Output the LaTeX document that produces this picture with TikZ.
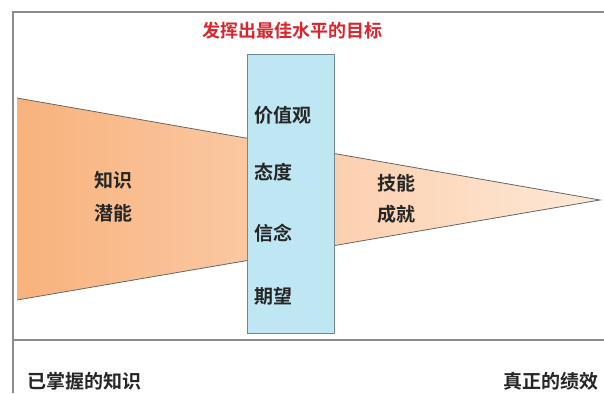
\documentclass[tikz,border=0pt]{standalone}
\usepackage{fontspec}
\newfontfamily\cjk{Noto Sans CJK SC}
\newfontfamily\cjkb{Noto Sans CJK SC Bold}
\usepackage{tikz}

\definecolor{framegray}{HTML}{8C8C8C}
\definecolor{deeporange}{HTML}{F8B27D}
\definecolor{paleorange}{HTML}{FEE9D8}
\definecolor{iceblue}{HTML}{BFE7F3}
\definecolor{boxedge}{HTML}{6F8794}
\definecolor{goalred}{HTML}{D7262E}

\begin{document}
\begin{tikzpicture}[x=1pt, y=-1pt, every node/.style={inner sep=0pt, font=\cjkb\fontsize{19}{21}\selectfont}]
	\tikzset{word/.style={anchor=west, text=black!85}}
	\useasboundingbox (0,0) rectangle (604,393);
	% frame
	\coordinate (f1) at (13,393);
	\coordinate (f2) at (13,12);
	\coordinate (f3) at (604,12);
	\coordinate (s1) at (13,340);
	\coordinate (s2) at (604,340);
	\draw[framegray, line width=1.4pt] (f1) -- (f2) -- (f3);
	\draw[framegray, line width=1.4pt] (s1) -- (s2);
	% wedge
	\coordinate (w1) at (17,98);
	\coordinate (w2) at (600,200);
	\coordinate (w3) at (17,300);
	\shade[left color=deeporange, right color=paleorange] (w1) -- (w2) -- (w3) -- cycle;
	\draw[black!60, line width=0.8pt] (w1) -- (w2) -- (w3);
	% middle bar
	\node[draw=boxedge, line width=1pt, fill=iceblue, minimum width=87pt, minimum height=278pt] (bar) at (290.5,194) {};
	\node[font=\cjkb\fontsize{18}{20}\selectfont, text=goalred] (goal) at (292,31) {发挥出最佳水平的目标};
	\node[word] (v1) at (254,115) {价值观};
	\node[word] (v2) at (254,172) {态度};
	\node[word] (v3) at (254,233) {信念};
	\node[word] (v4) at (254,296) {期望};
	\node[word] (k1) at (94,180) {知识};
	\node[word] (k2) at (94,213) {潜能};
	\node[word] (s1t) at (377,183) {技能};
	\node[word] (s2t) at (377,214) {成就};
	\node[word] (left) at (27,381) {已掌握的知识};
	\node[anchor=east, text=black!85] (right) at (599,381) {真正的绩效};
\end{tikzpicture}
\end{document}
